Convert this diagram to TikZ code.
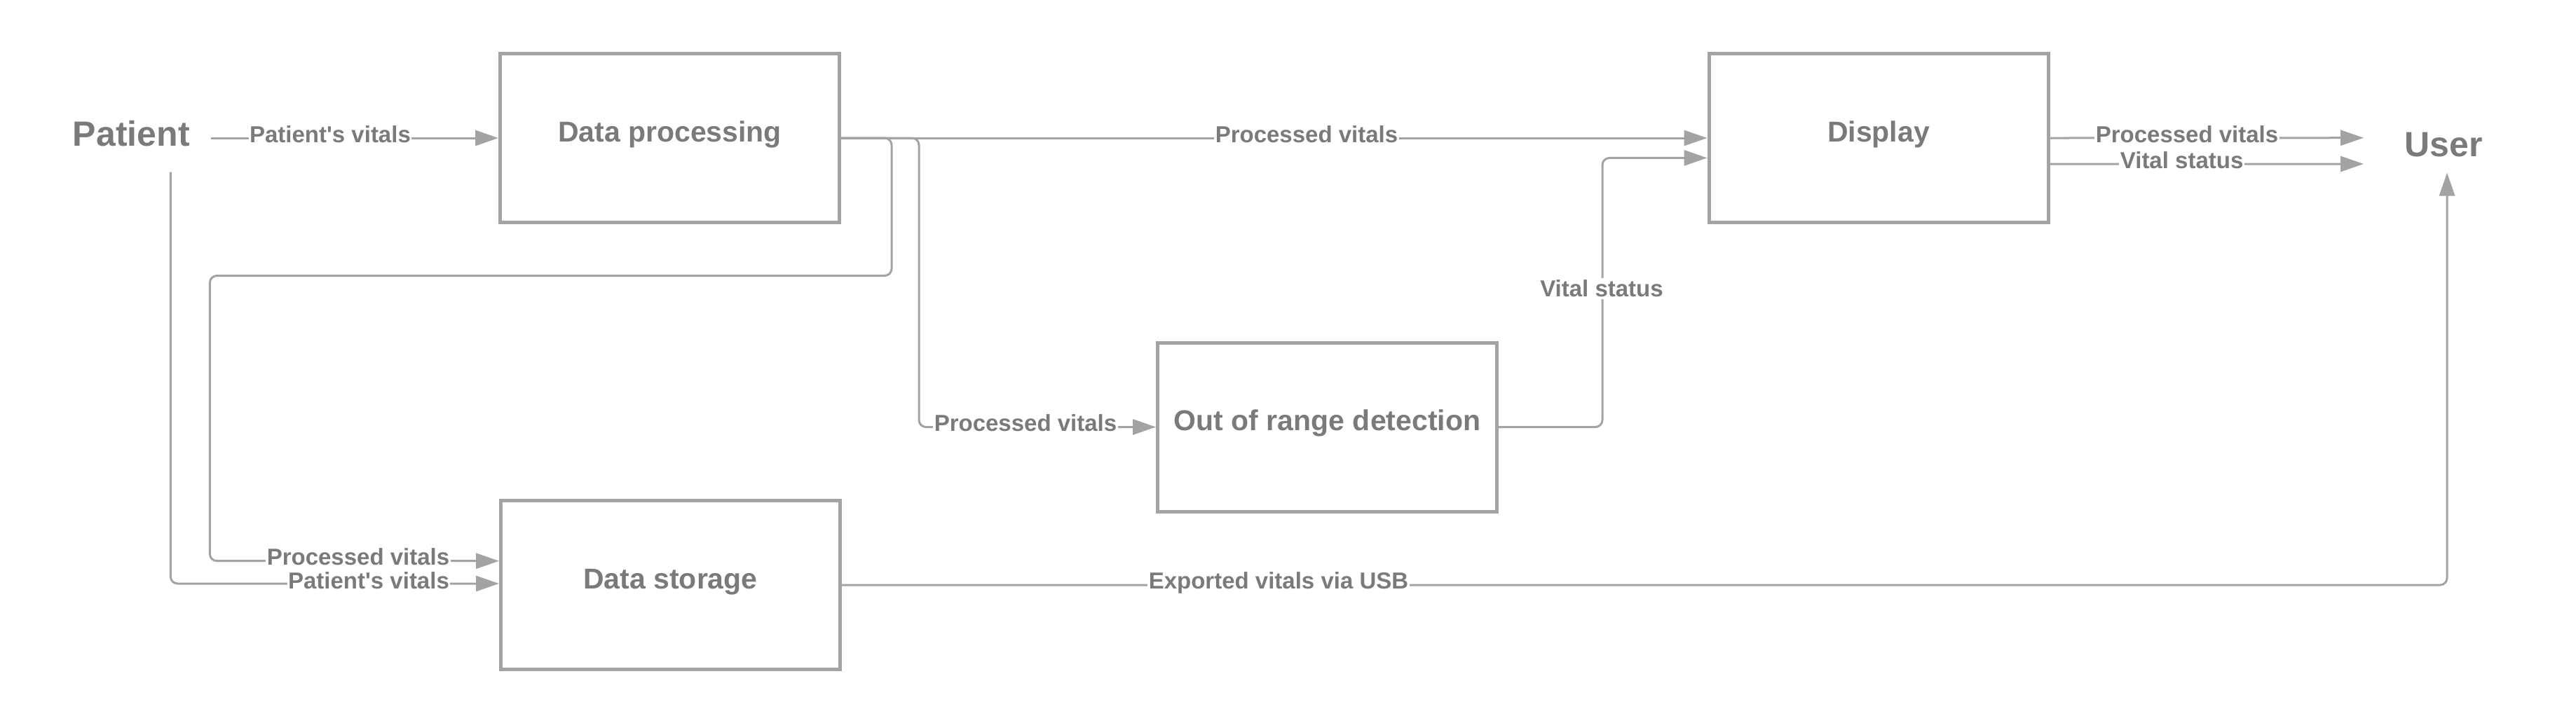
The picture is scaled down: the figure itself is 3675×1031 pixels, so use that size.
\documentclass[tikz,border=0pt]{standalone}
\usepackage{fontspec}
\setmainfont{Liberation Sans}
\usetikzlibrary{arrows.meta}
\definecolor{linegray}{RGB}{163,163,163}
\definecolor{textgray}{RGB}{122,122,122}
\begin{document}
\begin{tikzpicture}[x={(0.2pt,0)},y={(0,-0.2pt)},
 box/.style={draw=linegray, line width=1pt, minimum width=96.8pt, minimum height=48.2pt, inner sep=0pt,
   text height=6pt, text depth=4pt,
   font=\fontsize{8.2pt}{9pt}\selectfont\bfseries, text=textgray},
 actor/.style={font=\fontsize{10pt}{12pt}\selectfont\bfseries, text=textgray, inner sep=0pt},
 conn/.style={draw=linegray, line width=0.6pt, rounded corners=2pt, -{Triangle[length=6.6pt,width=4.4pt]}},
 lbl/.style={fill=white, text=textgray, font=\fontsize{6.6pt}{7pt}\selectfont\bfseries, inner xsep=0.3pt, inner ysep=0.6pt, anchor=base}]
\useasboundingbox (0,0) rectangle (3675,1031);

% boxes and actors
\node[box] (dp) at (955.5,197) {Data processing};
\node[box] (ds) at (956.5,835) {Data storage};
\node[box] (oor) at (1893.5,609.5) {Out of range detection};
\node[box] (disp) at (2680,197) {Display};
\node[actor, anchor=base] (patient) at (187.3,208) {Patient};
\node[actor, anchor=base] (user) at (3486,223) {User};

% helper coordinates
\coordinate (pv0) at ([xshift=5.8pt]patient.east);
\coordinate (pdown) at ([xshift=11.2pt,yshift=-7.2pt]patient.south);
\coordinate (uup) at ([xshift=1pt,yshift=-4.4pt]user.south);
\coordinate (u1) at (3372,196.7);
\coordinate (u2) at (3372,234);

% connectors
\draw[conn] (pv0 |- dp.west) -- (dp.west);
\draw[conn] (pdown) |- ([yshift=0.4pt]ds.west);
\draw[conn] (dp.east) -| (1272,300) |- (299.4,393.5) |- ([yshift=6.86pt]ds.west);
\draw[conn] (dp.east) -| (1311,500) |- (oor.west);
\draw[conn] (dp.east) -- (disp.west);
\draw[conn] (oor.east) -| (2286,400) |- ([yshift=-5.68pt]disp.west);
\draw[conn] (disp.east) -- (u1);
\draw[conn] ([yshift=-7.4pt]disp.east) -- (u2);
\draw[conn] (ds.east) -| (uup);

% labels
\node[lbl] (l1) at (471,203) {Patient\textquotesingle s vitals};
\node[lbl] (l2) at (1864,203) {Processed vitals};
\node[lbl] (l3) at (1463,615) {Processed vitals};
\node[lbl] (l4) at (2285,423.6) {Vital status};
\node[lbl] (l5) at (3120,203) {Processed vitals};
\node[lbl] (l6) at (3112.6,240) {Vital status};
\node[lbl] (l7) at (511,806.7) {Processed vitals};
\node[lbl] (l8) at (526,840) {Patient\textquotesingle s vitals};
\node[lbl] (l9) at (1824,840) {Exported vitals via USB};
\end{tikzpicture}
\end{document}
